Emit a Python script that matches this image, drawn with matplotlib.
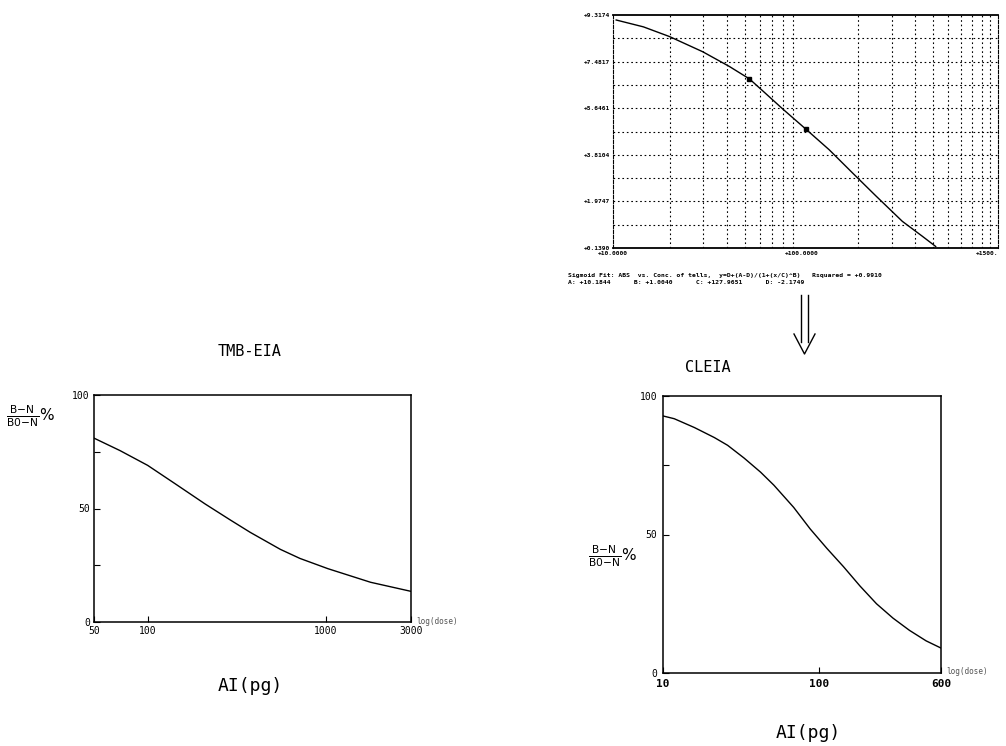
import numpy as np
import matplotlib.pyplot as plt
from matplotlib.lines import Line2D
from matplotlib.ticker import FixedLocator, NullLocator

# top right: computer sigmoid fit printout
fit_x = [10.4, 14.5, 19.9, 29.9, 41.4, 52.9, 62.2, 79.3, 105.4, 140, 186, 247, 342, 437, 514]
fit_y = [9.12, 8.85, 8.47, 7.87, 7.29, 6.80, 6.33, 5.62, 4.82, 4.01, 3.10, 2.20, 1.19, 0.60, 0.20]
std_x = [52.9, 105.4]
std_y = [6.80, 4.82]
fit_yticks = [0.1390, 1.9747, 3.8104, 5.6461, 7.4817, 9.3174]
fit_xticks = [10, 100, 1100]
fit_xlabels = ["+10.0000", "+100.0000", "+1500."]
fit_note = ["Sigmoid Fit: ABS  vs. Conc. of tells,  y=D+(A-D)/(1+(x/C)^B)   Rsquared = +0.9910",
            "A: +10.1844      B: +1.0040      C: +127.9651      D: -2.1749"]

# TMB-EIA standard curve
tmb_x = [50, 70, 100, 142, 210, 290, 376, 555, 715, 1025, 1780, 3000]
tmb_y = [81, 75.5, 69, 61, 52, 45, 39.5, 32, 28, 23.5, 17.5, 13.5]
tmb_xticks = [50, 100, 1000, 3000]

# CLEIA standard curve
cl_x = [10, 11.8, 15.9, 21.3, 25.9, 33.0, 42.1, 51.2, 68.5, 87.4, 111.7, 142.6, 182, 232, 296, 377, 482, 600]
cl_y = [92.8, 91.8, 88.6, 85.0, 82.2, 77.6, 72.5, 67.8, 59.8, 52.0, 45.0, 38.4, 31.4, 25.0, 19.8, 15.4, 11.6, 9.0]
cl_xticks = [10, 100, 600]

W, H = 1006, 746
fig = plt.figure(figsize=(W / 100, H / 100), dpi=100)
mono = "DejaVu Sans Mono"


def box(l, t, r, b):
    return [l / W, 1 - b / H, (r - l) / W, (b - t) / H]


# ---- top right printout
ax1 = fig.add_axes(box(613, 15, 998, 248))
ax1.plot(fit_x, fit_y, color="black", lw=1.0)
ax1.plot(std_x, std_y, "s", color="black", ms=2.5)
ax1.set_xscale("log")
ax1.set_xlim(10, 1100)
ax1.set_ylim(fit_yticks[0], fit_yticks[-1])
grid_x = [20, 30, 40, 50, 60, 70, 80, 90, 200, 300, 400, 500, 600, 700, 800, 900, 1000]
for gx in grid_x:
    ax1.axvline(gx, color="black", ls=(0, (1.5, 2.5)), lw=0.8)
gy = np.linspace(fit_yticks[0], fit_yticks[-1], 11)[1:-1]
for v in gy:
    ax1.axhline(v, color="black", ls=(0, (1.5, 2.5)), lw=0.8)
ax1.xaxis.set_major_locator(FixedLocator(fit_xticks))
ax1.xaxis.set_minor_locator(NullLocator())
ax1.set_xticklabels(fit_xlabels, fontsize=4.5, fontweight="bold", family=mono)
ax1.get_xticklabels()[-1].set_ha("right")
ax1.set_yticks(fit_yticks)
ax1.set_yticklabels(["%+.4f" % v for v in fit_yticks], fontsize=4.5, fontweight="bold", family=mono)
ax1.tick_params(length=0, pad=2)
for s in ["left", "right"]:
    ax1.spines[s].set_linestyle((0, (3, 1.5)))
    ax1.spines[s].set_linewidth(0.8)
ax1.spines["top"].set_linewidth(1.3)
ax1.spines["bottom"].set_linewidth(1.3)
fig.text(568 / W, 1 - 275 / H, fit_note[0], fontsize=4.6, fontweight="bold", family=mono, va="center")
fig.text(568 / W, 1 - 283 / H, fit_note[1], fontsize=4.6, fontweight="bold", family=mono, va="center")

# ---- left: TMB-EIA
ax2 = fig.add_axes(box(94, 395, 411, 622))
ax2.plot(tmb_x, tmb_y, color="black", lw=1.0)
ax2.set_xscale("log")
ax2.set_xlim(50, 3000)
ax2.set_ylim(0, 100)
ax2.xaxis.set_major_locator(FixedLocator(tmb_xticks))
ax2.xaxis.set_minor_locator(NullLocator())
ax2.set_xticklabels([str(v) for v in tmb_xticks], fontsize=7, family=mono)
ax2.set_yticks([0, 25, 50, 75, 100])
ax2.set_yticklabels(["0", "", "50", "", "100"], fontsize=7, family=mono)
ax2.tick_params(direction="in", length=4, width=0.8, pad=3)
for s in ax2.spines.values():
    s.set_linewidth(1.1)
fig.text(250 / W, 1 - 352 / H, "TMB-EIA", fontsize=11, family=mono, ha="center", va="center")
fig.text(250 / W, 1 - 686 / H, "AI(pg)", fontsize=13, family=mono, ha="center", va="center")
fig.text(416 / W, 1 - 622 / H, "log(dose)", fontsize=5.5, family=mono, va="center", color="#555555")
fig.text(6 / W, 1 - 416 / H, r"$\frac{\mathrm{B\!-\!N}}{\mathrm{B0\!-\!N}}$%", fontsize=11, va="center")

# ---- right: CLEIA
ax3 = fig.add_axes(box(663, 396, 941, 673))
ax3.plot(cl_x, cl_y, color="black", lw=1.0)
ax3.set_xscale("log")
ax3.set_xlim(10, 600)
ax3.set_ylim(0, 100)
ax3.xaxis.set_major_locator(FixedLocator(cl_xticks))
ax3.xaxis.set_minor_locator(NullLocator())
ax3.set_xticklabels([str(v) for v in cl_xticks], fontsize=8, fontweight="bold", family=mono)
ax3.set_yticks([0, 50, 75, 100])
ax3.set_yticklabels(["0", "50", "", "100"], fontsize=7, family=mono)
ax3.tick_params(direction="in", length=4, width=0.8, pad=4)
for s in ax3.spines.values():
    s.set_linewidth(1.1)
fig.text(708 / W, 1 - 368 / H, "CLEIA", fontsize=11, family=mono, ha="center", va="center")
fig.text(808 / W, 1 - 733 / H, "AI(pg)", fontsize=13, family=mono, ha="center", va="center")
fig.text(946 / W, 1 - 672 / H, "log(dose)", fontsize=5.5, family=mono, va="center", color="#555555")
fig.text(588 / W, 1 - 556 / H, r"$\frac{\mathrm{B\!-\!N}}{\mathrm{B0\!-\!N}}$%", fontsize=11, va="center")

# double arrow between the printout and CLEIA
for px in (801, 808):
    fig.add_artist(Line2D([px / W, px / W], [1 - 295 / H, 1 - 342 / H], color="black", lw=1.0))
fig.add_artist(Line2D([794 / W, 804.5 / W, 815 / W], [1 - 334 / H, 1 - 354 / H, 1 - 334 / H],
                      color="black", lw=1.0))

fig.savefig("out.png", dpi=100, facecolor="white")
